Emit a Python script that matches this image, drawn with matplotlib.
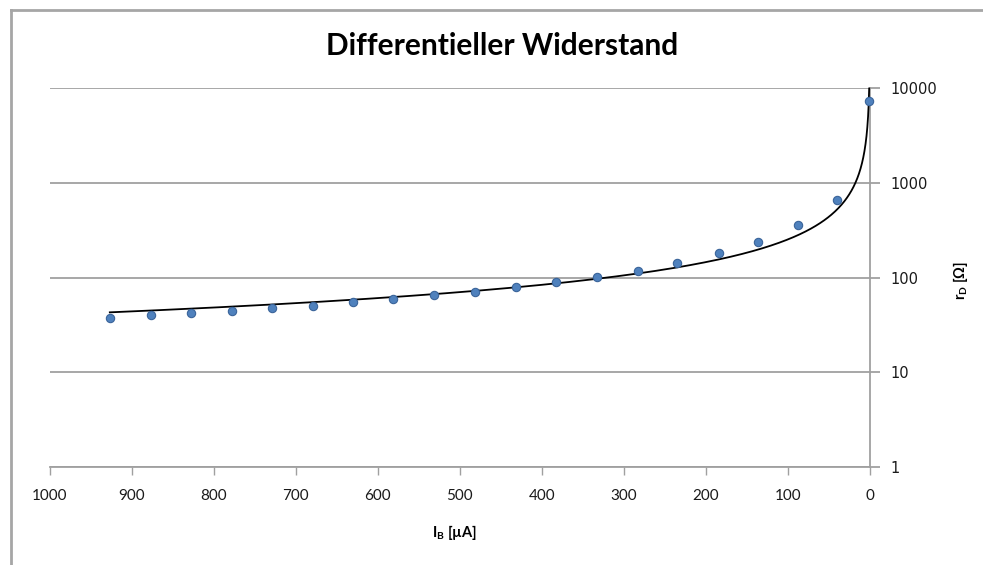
import numpy as np
import matplotlib
matplotlib.use("Agg")
import matplotlib.pyplot as plt
from matplotlib.lines import Line2D
from matplotlib.ticker import FixedLocator, NullLocator

# ---- data ----
I_B = [926.5, 876, 828, 777.5, 728.6, 679, 630, 581, 531, 482,
       431, 383, 333, 283, 235.5, 184.5, 137, 87.4, 40.6, 1.0]       # µA
r_D = [37.6, 40.4, 41.9, 44.6, 48.0, 50.4, 54.7, 59.3, 65.3, 70.8,
       80, 89, 101, 118, 141, 180, 236, 355, 660, 7400]               # Ohm
x_ticks = [1000, 900, 800, 700, 600, 500, 400, 300, 200, 100, 0]
y_ticks = [1, 10, 100, 1000, 10000]

title = "Differentieller Widerstand"
xlabel = r"I$_\mathregular{B}$ [µA]"
ylabel = r"r$_\mathregular{D}$ [Ω]"

# ---- power trendline (least squares in log-log, as Excel does) ----
lx = np.log10(np.array(I_B, dtype=float))
ly = np.log10(np.array(r_D, dtype=float))
b, loga = np.polyfit(lx, ly, 1)
xt = np.geomspace(min(I_B), max(I_B), 400)
yt = 10 ** loga * xt ** b

W, H = 983, 565
fig = plt.figure(figsize=(W / 100, H / 100), dpi=100)
fig.patch.set_facecolor("white")

# outer chart frame (top and left visible)
frame_col = "#a6a6a6"
fig.add_artist(Line2D([11 / W, 1.0], [1 - 10 / H, 1 - 10 / H], color=frame_col, lw=2,
                      transform=fig.transFigure))
fig.add_artist(Line2D([11 / W, 11 / W], [0, 1 - 10 / H], color=frame_col, lw=2,
                      transform=fig.transFigure))

left, right, top, bottom = 49.5, 870, 88.3, 466.7
ax = fig.add_axes([left / W, 1 - bottom / H, (right - left) / W, (bottom - top) / H])
ax.set_facecolor("none")

ax.set_yscale("log")
ax.set_xlim(1000, 0)
ax.set_ylim(1, 10000)

grid_col = "#a0a0a0"
for s in ["left", "top"]:
    ax.spines[s].set_visible(False)
for s in ["right", "bottom"]:
    ax.spines[s].set_color(grid_col)
    ax.spines[s].set_linewidth(1.3)

ax.yaxis.tick_right()
ax.yaxis.set_major_locator(FixedLocator(y_ticks))
ax.yaxis.set_minor_locator(NullLocator())
ax.set_yticklabels([str(v) for v in y_ticks])
ax.xaxis.set_major_locator(FixedLocator(x_ticks))
ax.set_xticklabels([str(v) for v in x_ticks])

ax.grid(True, axis="y", color=grid_col, lw=1.3)
ax.set_axisbelow(True)
ax.tick_params(axis="y", which="major", direction="out", length=7, width=1.3,
               color=grid_col, pad=8, labelsize=10.5, labelcolor="#1a1a1a")
ax.tick_params(axis="x", which="major", direction="out", length=6, width=1.0,
               color=grid_col, pad=10, labelsize=11, labelcolor="#1a1a1a")
for t in ax.get_xticklabels():
    t.set_fontfamily("Lato")
for t in ax.get_yticklabels():
    t.set_fontfamily("DejaVu Sans")

ax.plot(xt, yt, color="black", lw=1.3, zorder=3, clip_on=False)
ax.plot(I_B, r_D, linestyle="none", marker="o", markersize=6,
        markerfacecolor="#4f81bd", markeredgecolor="#3a649a", markeredgewidth=0.8,
        zorder=4, clip_on=False)

fig.text(502 / W, 1 - 46 / H, title, ha="center", va="center",
         fontsize=21.5, fontweight="bold", family="Lato")
fig.text(455 / W, 1 - 532 / H, xlabel, ha="center", va="center",
         fontsize=10.5, fontweight="bold", family="Lato")
fig.text(960 / W, 1 - 280 / H, ylabel, ha="center", va="center", rotation=90,
         fontsize=10.5, fontweight="bold", family="Lato")

fig.savefig("out.png", dpi=100, facecolor="white")
